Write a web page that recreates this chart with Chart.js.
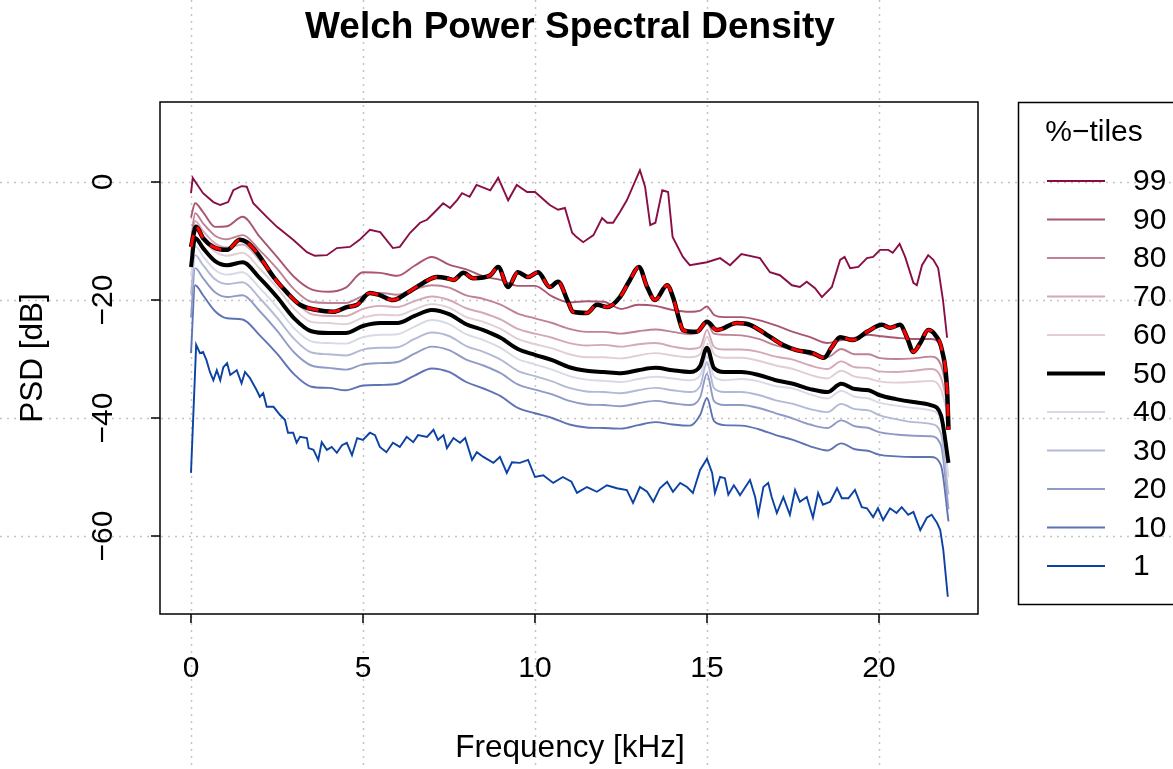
<!DOCTYPE html>
<html>
<head>
<meta charset="utf-8">
<title>Welch Power Spectral Density</title>
<script src="https://cdn.jsdelivr.net/npm/chart.js@4.4.1/dist/chart.umd.min.js"></script>
<style>
  html, body { margin: 0; padding: 0; background: #fff; }
  #wrap { width: 1173px; height: 769px; }
</style>
</head>
<body>
<div id="wrap"><canvas id="psd" width="1173" height="769"></canvas></div>
<script>
// === DATA ===
// frequency grid (kHz) shared by the smooth percentile curves
const freqGrid = [0, 0.12, 0.35, 0.7, 1.05, 1.5, 2.0, 2.5, 3.0, 3.5, 4.0, 4.5, 5.0, 5.5, 6.0, 6.5, 7.0, 7.5,
  8.0, 8.5, 9.0, 9.5, 10.0, 10.5, 11.0, 11.5, 12.0, 12.5, 13.0, 13.5, 14.0, 14.5, 14.8, 15.0, 15.2, 15.5,
  16.0, 16.5, 17.0, 17.5, 18.0, 18.5, 18.9, 19.3, 19.7, 20.0, 20.5, 21.0, 21.5, 21.8, 22.02];

const p90 = [-6.0, -3.6, -5.1, -7.6, -7.5, -5.9, -9.3, -12.7, -16.1, -18.2, -18.6, -17.9, -15.3, -15.4, -15.9, -14.2, -12.7, -14.0,
  -14.8, -16.0, -16.6, -17.6, -17.6, -19.4, -20.4, -20.2, -20.3, -21.5, -20.8, -21.0, -21.7, -22.0, -21.8, -21.1, -22.5, -22.9,
  -22.9, -23.4, -24.3, -25.4, -26.3, -27.3, -26.8, -26.4, -25.9, -26.1, -26.4, -26.6, -26.6, -28.0, -35.0];
const p80 = [-10.2, -5.3, -7.0, -9.1, -9.7, -9.0, -11.6, -14.7, -18.2, -20.3, -20.5, -20.5, -19.3, -18.8, -19.1, -18.2, -17.5, -17.9,
  -19.2, -19.8, -20.8, -22.3, -23.1, -23.9, -24.9, -25.4, -25.4, -25.7, -25.3, -25.0, -25.4, -25.8, -25.3, -23.9, -25.7, -25.9,
  -26.0, -26.6, -27.7, -28.4, -29.3, -29.7, -28.3, -29.2, -29.2, -29.8, -30.0, -29.9, -29.6, -31.0, -36.5];
const p70 = [-12.0, -6.6, -8.3, -10.4, -11.1, -10.6, -13.3, -16.5, -20.1, -22.4, -22.7, -22.7, -21.5, -21.0, -21.2, -20.2, -19.4, -20.0,
  -21.4, -22.2, -23.3, -24.9, -25.7, -26.4, -27.3, -27.7, -27.6, -27.9, -27.5, -27.3, -27.9, -28.3, -28.0, -25.1, -27.9, -28.4,
  -28.4, -28.8, -29.6, -30.1, -31.1, -31.7, -30.4, -31.4, -31.5, -32.1, -32.2, -32.0, -31.7, -33.1, -38.5];
const p60 = [-13.0, -8.1, -9.8, -11.8, -12.5, -12.0, -14.7, -17.9, -21.5, -23.7, -23.9, -24.1, -23.0, -22.5, -22.6, -21.6, -20.7, -21.3,
  -22.9, -23.7, -24.9, -26.6, -27.5, -28.2, -29.2, -29.7, -29.7, -29.9, -29.4, -29.0, -29.4, -29.7, -29.2, -26.3, -29.1, -29.8,
  -29.8, -30.3, -31.1, -31.7, -32.7, -33.3, -32.0, -33.0, -33.3, -33.8, -34.0, -33.9, -33.7, -35.1, -40.0];
const p50 = [-14.4, -9.5, -11.2, -13.4, -14.1, -13.6, -16.3, -19.5, -23.1, -25.3, -25.6, -25.6, -24.4, -23.9, -23.9, -22.7, -21.7, -22.4,
  -24.1, -25.1, -26.4, -28.3, -29.3, -30.2, -31.4, -32.0, -32.2, -32.4, -31.9, -31.5, -31.9, -32.2, -31.2, -28.1, -31.5, -32.2,
  -32.2, -32.7, -33.6, -34.2, -35.1, -35.6, -34.2, -35.1, -35.3, -36.1, -36.8, -37.3, -37.8, -39.5, -47.6];
const p40 = [-16.0, -10.9, -12.6, -14.9, -15.7, -15.3, -18.0, -21.2, -24.8, -27.0, -27.3, -27.4, -26.3, -25.9, -25.8, -24.5, -23.4, -24.1,
  -25.8, -26.8, -28.1, -30.0, -30.9, -31.8, -32.9, -33.5, -33.7, -33.9, -33.4, -33.0, -33.3, -33.6, -32.8, -29.5, -32.9, -33.6,
  -33.4, -33.8, -34.6, -35.0, -36.0, -36.7, -35.4, -36.4, -36.7, -37.4, -37.9, -38.3, -38.7, -40.3, -50.0];
const p30 = [-19.0, -12.4, -14.1, -16.5, -17.3, -17.0, -19.7, -23.0, -26.6, -28.9, -29.2, -29.4, -28.4, -28.1, -28.0, -26.6, -25.5, -26.1,
  -27.8, -28.8, -30.1, -32.0, -32.9, -33.8, -34.9, -35.5, -35.6, -35.8, -35.3, -34.9, -35.3, -35.6, -34.6, -30.5, -34.9, -35.6,
  -35.6, -36.1, -37.0, -37.6, -38.5, -39.0, -37.6, -38.5, -38.7, -39.5, -40.2, -40.7, -41.0, -42.6, -53.0];
const p20 = [-23.0, -14.6, -16.3, -18.7, -19.5, -19.2, -21.9, -25.2, -28.9, -31.1, -31.5, -31.8, -30.9, -30.7, -30.5, -29.1, -27.9, -28.5,
  -30.1, -31.1, -32.4, -34.3, -35.2, -36.0, -37.1, -37.7, -37.8, -38.0, -37.5, -37.1, -37.5, -37.8, -36.5, -32.5, -37.1, -37.8,
  -37.8, -38.3, -39.2, -40.1, -41.1, -41.7, -40.4, -41.4, -41.7, -42.4, -42.8, -43.0, -43.1, -44.6, -55.5];
const p10 = [-29.0, -17.5, -19.2, -21.9, -23.1, -23.3, -26.0, -29.1, -32.6, -34.7, -34.9, -35.3, -34.5, -34.4, -34.2, -32.8, -31.6, -32.2,
  -33.9, -35.0, -36.3, -38.3, -39.2, -40.0, -41.1, -41.6, -41.7, -41.8, -41.2, -40.7, -41.1, -41.3, -39.5, -36.6, -40.5, -41.2,
  -41.3, -41.9, -42.9, -43.7, -44.8, -45.5, -44.3, -45.3, -45.6, -46.2, -46.5, -46.6, -46.6, -48.0, -57.5];

// 99 %-tile (own frequency points)
const freq99 = [0, 0.05, 0.35, 0.65, 0.85, 1.08, 1.23, 1.47, 1.62, 1.81, 2.2, 2.5, 2.97, 3.37, 3.6, 3.95, 4.24, 4.62, 4.9, 5.2,
  5.5, 5.87, 6.07, 6.37, 6.66, 6.86, 7.15, 7.33, 7.53, 7.73, 7.88, 8.1, 8.3, 8.7, 8.93, 9.22, 9.47, 9.77, 10.0, 10.43,
  10.67, 10.87, 11.08, 11.2, 11.4, 11.7, 11.95, 12.1, 12.27, 12.47, 12.67, 12.9, 13.05, 13.2, 13.35, 13.5, 13.7, 13.87, 14.0, 14.3,
  14.5, 15.0, 15.38, 15.67, 16.0, 16.54, 16.83, 17.12, 17.47, 17.7, 17.9, 18.14, 18.34, 18.63, 18.87, 19.0, 19.16, 19.4, 19.65, 19.83,
  20.03, 20.27, 20.4, 20.6, 20.76, 21.0, 21.1, 21.25, 21.43, 21.58, 21.72, 21.86, 21.98];
const p99 = [-1.9, 0.7, -1.9, -3.4, -3.9, -3.4, -1.4, -0.7, -0.8, -3.6, -5.9, -7.6, -9.8, -11.9, -12.5, -12.4, -11.2, -11.0, -9.8, -8.1,
  -8.5, -11.2, -11.0, -8.6, -6.9, -6.4, -4.7, -3.6, -4.4, -3.1, -1.9, -2.5, -0.5, -1.4, 0.7, -3.1, -0.5, -1.7, -1.7, -3.9,
  -4.7, -4.4, -8.6, -9.3, -10.2, -9.0, -6.1, -6.9, -6.9, -5.1, -3.1, 0.0, 2.0, -0.8, -7.3, -6.9, -1.4, -1.7, -9.3, -12.7,
  -14.1, -13.6, -12.9, -14.1, -12.2, -12.9, -15.3, -15.8, -17.5, -17.8, -16.9, -18.0, -19.5, -17.8, -13.2, -12.7, -14.6, -14.4, -12.9, -12.7,
  -11.5, -11.5, -12.0, -10.5, -12.7, -17.1, -17.5, -14.1, -12.4, -13.2, -14.6, -20.0, -26.4];

// 1 %-tile (own frequency points)
const freq1 = [0, 0.15, 0.26, 0.35, 0.45, 0.55, 0.65, 0.75, 0.85, 0.94, 1.05, 1.14, 1.33, 1.47, 1.57, 1.71, 1.91, 2.0, 2.1, 2.2,
  2.4, 2.59, 2.73, 2.82, 2.97, 3.07, 3.17, 3.37, 3.42, 3.56, 3.7, 3.8, 3.95, 4.09, 4.24, 4.39, 4.53, 4.68, 4.83, 5.0,
  5.2, 5.35, 5.49, 5.68, 5.87, 6.07, 6.27, 6.46, 6.6, 6.86, 7.05, 7.18, 7.34, 7.44, 7.63, 7.82, 7.97, 8.17, 8.31, 8.5,
  8.79, 8.98, 9.18, 9.33, 9.56, 9.8, 10.0, 10.24, 10.53, 10.81, 11.06, 11.22, 11.51, 11.8, 12.09, 12.38, 12.67, 12.85, 13.05, 13.26,
  13.44, 13.63, 13.84, 14.01, 14.22, 14.42, 14.59, 14.8, 15.0, 15.15, 15.23, 15.38, 15.52, 15.62, 15.78, 15.87, 15.96, 16.25, 16.4, 16.49,
  16.64, 16.78, 16.88, 17.03, 17.22, 17.41, 17.56, 17.7, 17.9, 18.08, 18.23, 18.37, 18.58, 18.78, 18.92, 19.11, 19.3, 19.5, 19.65, 19.83,
  19.97, 20.12, 20.32, 20.51, 20.66, 20.85, 21.0, 21.2, 21.39, 21.53, 21.69, 21.78, 21.87, 22.0];
const p1 = [-49.3, -27.6, -29.0, -28.8, -30.2, -32.2, -33.6, -31.9, -33.6, -31.4, -30.7, -32.7, -31.9, -34.1, -32.2, -33.2, -35.3, -36.4, -35.8, -38.1,
  -38.1, -39.5, -40.3, -42.5, -42.5, -44.2, -43.2, -43.4, -45.1, -45.4, -47.1, -44.1, -45.4, -44.9, -45.9, -44.6, -44.2, -46.3, -43.4, -43.7,
  -42.5, -42.9, -44.9, -45.8, -44.2, -44.9, -43.2, -44.1, -42.9, -43.2, -42.0, -43.7, -42.9, -45.1, -43.4, -44.2, -43.4, -47.1, -45.8, -46.6,
  -47.6, -46.6, -49.3, -47.5, -47.6, -47.1, -50.0, -49.7, -51.0, -50.0, -50.8, -52.7, -51.7, -52.5, -51.4, -51.9, -52.2, -54.4, -51.7, -52.5,
  -54.2, -51.9, -50.8, -52.5, -51.0, -51.7, -52.7, -48.8, -46.9, -49.3, -52.7, -50.0, -50.2, -53.0, -51.4, -52.2, -53.1, -50.5, -53.4, -56.4,
  -51.7, -51.0, -53.4, -56.1, -53.4, -56.4, -52.2, -54.2, -53.4, -56.9, -52.7, -54.7, -54.2, -51.9, -53.6, -53.6, -52.2, -55.1, -55.3, -56.8,
  -55.3, -57.3, -55.3, -56.1, -55.1, -56.4, -55.9, -59.0, -56.9, -56.4, -57.8, -59.0, -62.4, -70.3];

// mean spectrum (black with red dashes, not in the legend)
const freqMean = [0, 0.15, 0.35, 0.65, 1.05, 1.42, 1.62, 1.92, 2.4, 2.8, 3.17, 3.66, 4.13, 4.53, 4.83, 5.2, 5.5, 5.87, 6.28, 6.75,
  7.15, 7.44, 7.63, 7.92, 8.2, 8.7, 8.93, 9.22, 9.5, 9.8, 10.09, 10.43, 10.67, 10.96, 11.1, 11.51, 11.8, 12.1, 12.47, 12.76,
  13.02, 13.26, 13.49, 13.84, 14.01, 14.22, 14.3, 14.7, 15.0, 15.29, 15.87, 16.25, 16.74, 17.2, 17.6, 18.07, 18.4, 18.63, 18.87, 19.24,
  19.65, 20.09, 20.32, 20.61, 20.81, 21.0, 21.2, 21.43, 21.63, 21.83, 21.98, 22.02];
const psdMean = [-11.0, -7.6, -9.5, -11.0, -11.5, -9.8, -10.2, -12.0, -16.1, -18.8, -20.8, -21.7, -22.0, -21.2, -20.8, -18.8, -19.2, -20.0, -18.8, -17.1,
  -16.1, -16.3, -16.6, -15.4, -16.3, -15.8, -14.4, -17.8, -15.3, -16.1, -15.3, -17.8, -16.9, -20.3, -22.0, -22.2, -20.8, -21.2, -19.5, -16.6,
  -14.4, -17.8, -20.0, -17.5, -19.5, -23.9, -25.1, -25.4, -23.7, -25.1, -23.9, -24.2, -25.9, -27.6, -28.5, -29.0, -29.8, -28.0, -26.3, -26.8,
  -25.4, -24.2, -24.7, -24.2, -26.3, -28.8, -27.3, -25.1, -25.9, -28.5, -35.3, -42.0];

const tileLabels = ['99', '90', '80', '70', '60', '50', '40', '30', '20', '10', '1'];
const tileColors = ['#8a0e46', '#aa5670', '#bf8194', '#d3a9b5', '#e2cdd3', '#000000',
  '#d7d9e7', '#b3b9d4', '#8f9bc6', '#5f72b4', '#0b42a4'];

const xTicks = [0, 5, 10, 15, 20];
const yTicks = [0, -20, -40, -60];

// === HELPERS ===
const FONT = "'Liberation Sans', Arial, Helvetica, sans-serif";

function pts(xs, ys) {
  return xs.map((x, i) => ({ x: x, y: ys[i] }));
}

function minusSign(v) {
  return v < 0 ? '\u2212' + Math.abs(v) : String(v);
}

// tile series: x array, y array (same order as tileLabels)
const tileX = [freq99, freqGrid, freqGrid, freqGrid, freqGrid, freqGrid, freqGrid, freqGrid, freqGrid, freqGrid, freq1];
const tileY = [p99, p90, p80, p70, p60, p50, p40, p30, p20, p10, p1];

const datasets = tileLabels.map((lab, i) => {
  const isMedian = lab === '50';
  const noisy = lab === '1' || lab === '99';
  return {
    label: lab,
    data: pts(tileX[i], tileY[i]),
    borderColor: tileColors[i],
    borderWidth: isMedian ? 4 : 1.9,
    pointRadius: 0,
    tension: 0,
    cubicInterpolationMode: noisy ? 'default' : 'monotone',
    order: isMedian ? 2 : 3
  };
});

// mean: thick black under a red dashed line
datasets.push({
  label: '', data: pts(freqMean, psdMean), borderColor: '#000000', borderWidth: 4.5,
  pointRadius: 0, cubicInterpolationMode: 'monotone', order: 1
});
datasets.push({
  label: '', data: pts(freqMean, psdMean), borderColor: '#ff0000', borderWidth: 3,
  borderDash: [12, 10], pointRadius: 0, cubicInterpolationMode: 'monotone', order: 0
});

// === PLUGIN: grid, frame, axes, titles, legend (R base-graphics look) ===
const rStyle = {
  id: 'rStyle',
  beforeDraw(chart) {
    const ctx = chart.ctx;
    const sx = chart.scales.x, sy = chart.scales.y;
    ctx.save();
    ctx.fillStyle = '#ffffff';
    ctx.fillRect(0, 0, chart.width, chart.height);
    ctx.strokeStyle = '#c4c4c4';
    ctx.lineWidth = 1.5;
    ctx.setLineDash([2, 5]);
    xTicks.forEach(v => {
      const px = Math.round(sx.getPixelForValue(v)) + 0.5;
      ctx.beginPath(); ctx.moveTo(px, 0); ctx.lineTo(px, chart.height); ctx.stroke();
    });
    yTicks.forEach(v => {
      const py = Math.round(sy.getPixelForValue(v)) + 0.5;
      ctx.beginPath(); ctx.moveTo(0, py); ctx.lineTo(chart.width, py); ctx.stroke();
    });
    ctx.restore();
  },
  afterDraw(chart) {
    const ctx = chart.ctx;
    const a = chart.chartArea;
    const sx = chart.scales.x, sy = chart.scales.y;
    ctx.save();
    ctx.setLineDash([]);
    ctx.strokeStyle = '#000';
    ctx.lineWidth = 1.5;
    ctx.strokeRect(a.left, a.top, a.right - a.left, a.bottom - a.top);

    // ticks and tick labels
    ctx.fillStyle = '#000';
    ctx.font = '30px ' + FONT;
    ctx.textAlign = 'center';
    ctx.textBaseline = 'middle';
    xTicks.forEach(v => {
      const px = sx.getPixelForValue(v);
      ctx.beginPath(); ctx.moveTo(px, a.bottom); ctx.lineTo(px, a.bottom + 9); ctx.stroke();
      ctx.fillText(String(v), px, 669);
    });
    yTicks.forEach(v => {
      const py = sy.getPixelForValue(v);
      ctx.beginPath(); ctx.moveTo(a.left, py); ctx.lineTo(a.left - 9, py); ctx.stroke();
      ctx.save();
      ctx.translate(104, py);
      ctx.rotate(-Math.PI / 2);
      ctx.fillText(minusSign(v), 0, 0);
      ctx.restore();
    });

    // axis titles
    ctx.font = '31.5px ' + FONT;
    ctx.fillText('Frequency [kHz]', (a.left + a.right) / 2 + 1, 748);
    ctx.save();
    ctx.translate(33, (a.top + a.bottom) / 2);
    ctx.rotate(-Math.PI / 2);
    ctx.fillText('PSD [dB]', 0, 0);
    ctx.restore();

    // main title
    ctx.font = 'bold 37px ' + FONT;
    ctx.fillText('Welch Power Spectral Density', (a.left + a.right) / 2 + 1, 28);

    // legend box
    ctx.lineWidth = 1.5;
    ctx.strokeRect(1018.5, 102.5, 300, 502);
    ctx.font = '30px ' + FONT;
    ctx.fillText('%\u2212tiles', 1094, 133);
    ctx.textAlign = 'left';
    chart.data.datasets.forEach((ds, i) => {
      if (!ds.label) return;
      const y = 181 + i * 38.5;
      ctx.strokeStyle = ds.borderColor;
      ctx.lineWidth = ds.borderWidth;
      ctx.beginPath(); ctx.moveTo(1047, y); ctx.lineTo(1105, y); ctx.stroke();
      ctx.fillText(ds.label, 1133, y + 1);
    });
    ctx.restore();
  }
};

// === CHART ===
new Chart(document.getElementById('psd'), {
  type: 'line',
  data: { datasets: datasets },
  options: {
    responsive: false,
    animation: false,
    events: [],
    devicePixelRatio: 1,
    layout: { padding: { left: 160, right: 195, top: 102, bottom: 155 } },
    scales: {
      x: { type: 'linear', min: -0.901, max: 22.878, display: false },
      y: { type: 'linear', min: -73.22, max: 13.56, display: false }
    },
    plugins: {
      legend: { display: false },
      tooltip: { enabled: false },
      title: { display: false }
    }
  },
  plugins: [rStyle]
});
</script>
</body>
</html>
